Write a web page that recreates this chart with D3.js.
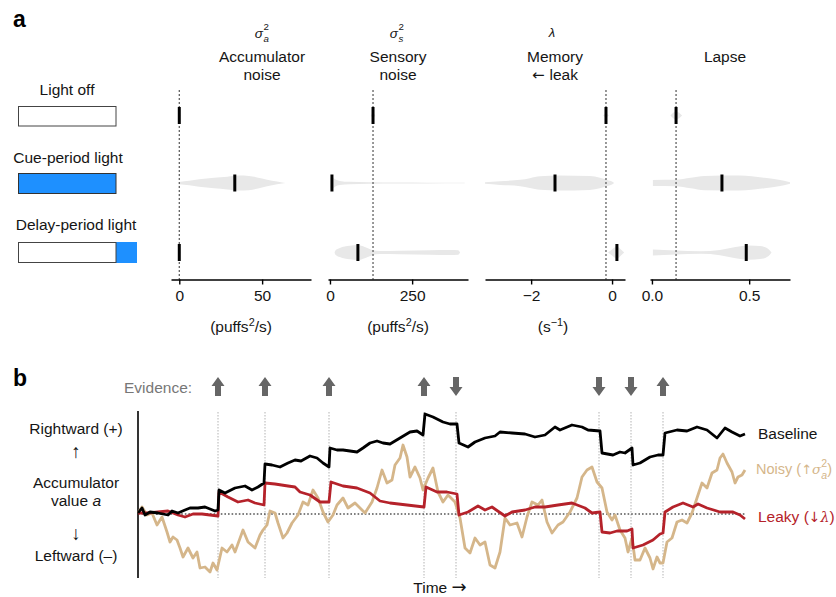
<!DOCTYPE html>
<html><head><meta charset="utf-8">
<script src="https://cdn.jsdelivr.net/npm/d3@7"></script>
<style>
body{margin:0;background:#fff}
svg text{font-family:"Liberation Sans",Arial,Helvetica,sans-serif;}
</style>
</head><body>
<svg id="c" width="836" height="597"></svg>
<script>
// ---------------- DATA: panel a ----------------
const conditions = ["Light off", "Cue-period light", "Delay-period light"];
const paramTitles = ["Accumulator", "Sensory", "Memory", "Lapse"];
const paramSubtitles = ["noise", "noise", "leak", ""];
const accumDomain = [-5, 79.5];
const sensoryDomain = [-6, 420];
const memoryDomain = [-3.14, 0.32];
const lapseDomain = [-0.01, 0.71];
const accumTicks = [0, 50];
const sensoryTicks = [0, 250];
const memoryTicks = [-2, 0];
const lapseTicks = [0, 0.5];
// best-fit values per condition: [accum, sensory, memory, lapse]
const lightOffValues = [0, 131, -0.15, 0.124];
const cueValues = [33.5, 6, -1.41, 0.36];
const delayValues = [0, 85, 0.12, 0.485];
// violin density profiles [value, relative density]
const lightOffViolins = [
  [[-0.6,0],[0,0.12],[0.8,0]],
  [[124,0],[131,0.3],[138,0]],
  [[-0.22,0],[-0.15,0.22],[-0.08,0]],
  [[0.095,0],[0.124,0.55],[0.155,0]]
];
const cueViolins = [
  [[0,0.15],[6,0.3],[12,0.5],[21,0.7],[29,0.85],[36,1.0],[42,0.95],[50,0.6],[56,0.3],[62,0.08],[64,0]],
  [[2,0.7],[8,0.72],[15,0.5],[30,0.28],[60,0.16],[120,0.11],[210,0.08],[300,0.05],[410,0.03]],
  [[-3.14,0.1],[-2.77,0.25],[-2.27,0.42],[-2.03,0.65],[-1.78,0.9],[-1.3,1],[-0.55,0.92],[-0.3,0.7],[-0.12,0.4],[0.02,0.12],[0.05,0]],
  [[0.005,0.4],[0.12,0.42],[0.2,0.7],[0.27,0.95],[0.45,1],[0.58,0.7],[0.66,0.4],[0.71,0.1]]
];
const delayViolins = [
  [[-0.6,0],[0,0.12],[0.8,0]],
  [[14,0],[16,0.25],[30,0.6],[60,0.9],[85,1.0],[106,0.75],[128,0.35],[152,0.2],[213,0.24],[304,0.3],[365,0.34],[390,0.3],[396,0]],
  [[-0.1,0],[0.0,0.4],[0.12,0.85],[0.22,0.4],[0.3,0]],
  [[0.005,0.4],[0.12,0.28],[0.25,0.17],[0.35,0.35],[0.43,0.75],[0.5,0.95],[0.556,0.88],[0.6,0.45],[0.615,0]]
];

// ---------------- DATA: panel b ----------------
const evidenceTimes = [80, 127, 191, 286, 318, 461, 493, 525];
const evidenceDirs  = [1, 1, 1, 1, -1, -1, -1, 1];
const baselineSeries = [[0,0.1],[4,0.6],[7,-0.1],[12,0.2],[20,0.1],[30,-0.1],[34,0.3],[40,0.1],[47,0.4],[52,0.6],[60,0.6],[67,0.7],[72,0.5],[77,0.3],[80,0.4],
 [81,2.4],[87,2.1],[97,2.6],[107,2.8],[114,2.4],[120,2.7],[126,3.1],
 [127,5.0],[134,4.9],[142,4.7],[150,5.1],[157,5.4],[163,5.3],[172,5.8],[179,5.6],[185,5.1],[191,4.7],
 [192,6.6],[199,6.4],[205,6.4],[212,6.3],[219,6.2],[225,6.6],[232,7.1],[239,7.3],[245,7.1],[252,7.0],[262,7.6],[272,8.2],[279,8.3],[285,7.9],
 [287,10.0],[295,9.7],[305,9.2],[312,9.0],[319,9.0],
 [321,7.1],[330,6.7],[337,7.2],[347,7.6],[357,7.8],[362,8.2],[374,8.1],[387,8.0],[397,7.7],[407,7.9],[417,8.7],[422,8.4],[434,8.9],[444,8.7],[450,8.4],[462,8.3],
 [464,6.1],[475,5.9],[482,6.2],[487,6.1],[494,6.6],
 [495,4.9],[502,5.1],[512,5.7],[520,5.9],[525,5.9],
 [527,8.1],[539,8.4],[549,8.3],[559,8.7],[569,8.4],[579,7.6],[587,8.6],[594,8.2],[602,7.8],[607,8.0]];
const noisySeries = [[0,0.1],[4,0.7],[9,-0.1],[14,0.1],[19,-1.1],[24,-0.3],[29,-1.8],[32,-2.8],[35,-2.3],[39,-2.6],[42,-3.4],[45,-4.3],[50,-3.4],[55,-4.4],[59,-3.8],[62,-5.4],[67,-5.3],[72,-5.8],[75,-4.9],[79,-5.6],
 [84,-3.4],[89,-3.8],[94,-3.1],[97,-3.8],[105,-1.6],[110,-2.8],[117,-3.4],[122,-2.1],[125,-1.6],[129,-1.1],[132,0.3],[137,0.1],[140,-0.9],[145,-2.4],[149,-1.9],[154,-0.9],
 [160,-0.1],[165,1.2],[170,0.9],[175,2.4],[180,1.6],[185,0.2],[190,-0.8],[195,-0.1],[199,0.9],[205,1.6],[210,0.6],[217,1.1],[222,0.6],[227,0.1],[234,1.2],[239,2.6],[244,4.4],[249,3.1],[254,3.4],[257,4.9],[262,5.6],[265,6.9],[269,5.7],[272,3.7],[277,4.7],[282,3.6],[285,2.4],[290,3.6],[295,4.6],[300,2.2],[305,1.2],[310,1.9],
 [317,1.2],[322,-0.4],[327,-3.4],[332,-3.9],[337,-2.4],[342,-3.1],[347,-2.8],[352,-5.1],[357,-5.4],[362,-3.8],[367,-0.4],[372,-1.1],[379,-0.9],[384,-2.3],[389,-0.3],[394,1.2],[400,0.9],[404,1.4],[409,-0.8],[414,-1.9],[420,-1.1],[425,-0.8],[432,0.2],[439,1.6],[444,3.7],[449,4.4],[454,4.7],[459,3.2],[464,2.6],
 [469,0.2],[474,-0.6],[477,-0.1],[482,-1.6],[487,-2.4],[490,-3.8],[494,-2.4],[497,-4.6],[502,-4.6],[507,-3.4],[512,-4.4],[515,-5.5],[519,-4.3],[522,-4.9],[525,-4.9],[529,-2.8],[534,-2.4],[539,-0.8],[544,-0.6],[549,-0.9],[554,0.1],[559,1.6],[564,3.1],[569,2.6],[574,4.1],[579,4.4],[582,5.6],[585,6.0],[589,5.1],[594,4.2],[597,3.1],[600,3.7],[604,3.9],[607,4.4]];
const leakySeries = [[0,0.1],[10,0.1],[20,0.2],[30,0.3],[40,-0.1],[47,-0.3],[55,0.0],[64,0.0],[72,-0.1],[80,-0.2],
 [81,2.2],[90,1.7],[100,1.2],[110,1.4],[117,1.1],[126,0.9],
 [127,3.1],[137,3.0],[150,2.8],[157,2.7],[162,2.2],[172,1.9],[182,1.2],[191,1.2],
 [193,3.2],[205,2.8],[219,2.6],[232,2.1],[242,1.3],[252,1.1],[269,0.9],[286,0.7],
 [288,2.7],[299,2.2],[309,2.2],[319,2.0],
 [321,-0.1],[330,0.2],[340,0.8],[347,0.4],[354,0.7],[367,-0.2],[374,0.2],[387,0.4],[397,0.7],[407,0.7],[420,0.9],[434,1.1],[447,0.6],[454,0.1],[462,0.2],
 [464,-1.8],[472,-1.9],[479,-1.7],[489,-1.7],[494,-1.5],
 [495,-3.4],[505,-3.1],[515,-2.6],[522,-2.0],[525,-1.9],
 [527,0.2],[535,0.7],[545,1.1],[555,0.7],[560,1.0],[569,0.6],[582,0.2],[595,0.2],[602,-0.1],[607,-0.5]];
const timeDomain = [0, 607];
const valueDomain = [-6.4, 10.4];

// ---------------- DRAW ----------------
const svg = d3.select("#c");
const FS = 15.5;
const ARROWFONT = "'DejaVu Sans',sans-serif";
const blue = "#1e90ff";
const grey = "#e8e8e8";
const tanC = "#d5b68a";
const redC = "#b5222a";
const ink = "#151515";

svg.append("text").attr("x",13).attr("y",27).attr("font-size",23).attr("font-weight","bold").text("a");
svg.append("text").attr("x",13).attr("y",386).attr("font-size",23).attr("font-weight","bold").text("b");

const rowY = [115.5, 183, 252.5];
const labelY = [95, 163, 230];
const labelX = [67, 68, 76];
conditions.forEach((c,i)=>{
  svg.append("text").attr("x",labelX[i]).attr("y",labelY[i]).attr("text-anchor","middle").attr("font-size",FS).attr("fill",ink).text(c);
});
const boxG = svg.append("g");
boxG.append("rect").attr("x",18.5).attr("y",106.5).attr("width",97.5).attr("height",19.5).attr("fill","#fff").attr("stroke","#444").attr("stroke-width",1);
boxG.append("rect").attr("x",18.5).attr("y",173.5).attr("width",97.5).attr("height",20).attr("fill",blue).attr("stroke","#333").attr("stroke-width",1);
boxG.append("rect").attr("x",116).attr("y",242).attr("width",21).attr("height",21).attr("fill",blue);
boxG.append("rect").attr("x",18.5).attr("y",242.5).attr("width",97.5).attr("height",20).attr("fill","#fff").attr("stroke","#444").attr("stroke-width",1);

const domains = [accumDomain, sensoryDomain, memoryDomain, lapseDomain];
const ticks = [accumTicks, sensoryTicks, memoryTicks, lapseTicks];
const ranges = [[171,311],[328,468],[485,625],[650,790]];
const headerX = [262, 398, 555, 725];
const formats = [d3.format("d"), d3.format("d"), d3.format("d"), d3.format(".1f")];
const axisY = 279.5;
const wScale = d3.scaleLinear().domain([0,1]).range([0,7.5]);
const allViolins = [lightOffViolins, cueViolins, delayViolins];
const allValues = [lightOffValues, cueValues, delayValues];

domains.forEach((dom,p)=>{
  const xs = d3.scaleLinear().domain(dom).range(ranges[p]);
  const g = svg.append("g");
  allViolins.forEach((vs,r)=>{
    const cy = rowY[r];
    const area = d3.area().x(d=>xs(d[0])).y0(d=>cy - wScale(d[1])).y1(d=>cy + wScale(d[1])).curve(d3.curveMonotoneX);
    g.append("path").attr("d",area(vs[p])).attr("fill",grey);
  });
  g.append("line").attr("x1",xs(lightOffValues[p])).attr("x2",xs(lightOffValues[p]))
    .attr("y1",90).attr("y2",axisY).attr("stroke","#555").attr("stroke-width",1.2).attr("stroke-dasharray","2,2");
  allValues.forEach((vals,r)=>{
    const cy = rowY[r];
    g.append("line").attr("x1",xs(vals[p])).attr("x2",xs(vals[p])).attr("y1",cy-8.5).attr("y2",cy+8.5)
      .attr("stroke","#000").attr("stroke-width",3);
  });
  const ax = g.append("g").attr("transform",`translate(0,${axisY})`)
    .call(d3.axisBottom(xs).tickValues(ticks[p]).tickFormat(formats[p]).tickSize(5).tickSizeOuter(0).tickPadding(5));
  ax.select(".domain").attr("stroke","#000").attr("stroke-width",1.6);
  ax.selectAll(".tick line").attr("stroke","#000").attr("stroke-width",1.4);
  ax.selectAll(".tick text").attr("font-size",FS).attr("fill",ink).attr("font-family",'"Liberation Sans",Arial,sans-serif');
  g.append("text").attr("x",headerX[p]).attr("y",62).attr("text-anchor","middle").attr("font-size",FS).attr("fill",ink).text(paramTitles[p]);
  if (paramSubtitles[p]) {
    const st = g.append("text").attr("x",headerX[p]).attr("y",80).attr("text-anchor","middle").attr("font-size",FS).attr("fill",ink);
    if (p===2) st.append("tspan").attr("font-family",ARROWFONT).attr("font-size",15).text("\u2190 ");
    st.append("tspan").text(paramSubtitles[p]);
  }
});

function sigma(x, y, sub, size, color){
  svg.append("text").attr("x",x).attr("y",y).attr("text-anchor","end").attr("font-size",size).attr("font-style","italic").attr("fill",color).attr("font-family","'DejaVu Serif',serif").text("\u03c3");
  svg.append("text").attr("x",x+0.5).attr("y",y-8).attr("font-size",size*0.72).attr("fill",color).text("2");
  svg.append("text").attr("x",x+0.5).attr("y",y+4).attr("font-size",size*0.72).attr("font-style","italic").attr("fill",color).text(sub);
}
sigma(263, 38, "a", 13.5, ink);
sigma(398, 38, "s", 13.5, ink);
svg.append("text").attr("x",552).attr("y",37).attr("text-anchor","middle").attr("font-size",13).attr("font-style","italic").attr("font-family","'DejaVu Serif',serif").attr("fill",ink).text("\u03bb");

function unitLabel(x, base, supTxt, tail){
  const t = svg.append("text").attr("x",x).attr("y",332).attr("text-anchor","middle").attr("font-size",FS).attr("fill",ink);
  t.append("tspan").text(base);
  t.append("tspan").attr("dy",-6).attr("font-size",FS*0.7).text(supTxt);
  t.append("tspan").attr("dy",6).text(tail);
}
unitLabel(241, "(puffs", "2", "/s)");
unitLabel(398, "(puffs", "2", "/s)");
unitLabel(553, "(s", "\u22121", ")");

// ---------------- panel b ----------------
const xT = d3.scaleLinear().domain(timeDomain).range([138,745]);
const yV = d3.scaleLinear().domain(valueDomain).range([578,410]);
const gb = svg.append("g");

gb.append("text").attr("x",124).attr("y",393).attr("font-size",FS).attr("fill","#777").text("Evidence:");

evidenceTimes.forEach(t=>{
  gb.append("line").attr("x1",xT(t)).attr("x2",xT(t)).attr("y1",412).attr("y2",578)
    .attr("stroke","#aaa").attr("stroke-width",0.9).attr("stroke-dasharray","1.5,1.5");
});
evidenceTimes.forEach((t,i)=>{
  const cx = xT(t), top = 377, bot = 396, hh = 9, hw = 6.5, sw = 3;
  const d = evidenceDirs[i];
  const tipY = d>0 ? top : bot, baseY = d>0 ? bot : top, neckY = d>0 ? top+hh : bot-hh;
  const pts = [[cx,tipY],[cx+hw,neckY],[cx+sw,neckY],[cx+sw,baseY],[cx-sw,baseY],[cx-sw,neckY],[cx-hw,neckY]];
  gb.append("path").attr("d","M"+pts.map(p=>p.join(",")).join("L")+"Z").attr("fill","#666");
});

gb.append("line").attr("x1",xT(0)).attr("x2",xT(607)).attr("y1",yV(0)).attr("y2",yV(0))
  .attr("stroke","#000").attr("stroke-width",1.2).attr("stroke-dasharray","1.6,2");
gb.append("line").attr("x1",138).attr("x2",138).attr("y1",411).attr("y2",578).attr("stroke","#000").attr("stroke-width",1.6);

const line = d3.line().x(d=>xT(d[0])).y(d=>yV(d[1]));
gb.append("path").attr("d",line(noisySeries)).attr("fill","none").attr("stroke",tanC).attr("stroke-width",2.8).attr("stroke-linejoin","round");
gb.append("path").attr("d",line(leakySeries)).attr("fill","none").attr("stroke",redC).attr("stroke-width",2.8).attr("stroke-linejoin","round");
gb.append("path").attr("d",line(baselineSeries)).attr("fill","none").attr("stroke","#000").attr("stroke-width",2.8).attr("stroke-linejoin","round");

const leftLines = [["Rightward (+)",434],["\u2191",458],["Accumulator",488],["value ",506],["\u2193",540],["Leftward (\u2013)",561]];
leftLines.forEach(([s,y],i)=>{
  const t = gb.append("text").attr("x",76).attr("y",y).attr("text-anchor","middle").attr("font-size",FS).attr("fill",ink);
  if (i===1 || i===4) { t.attr("font-family",ARROWFONT).attr("font-size",19).text(s); return; }
  t.append("tspan").text(s);
  if (i===3) t.append("tspan").attr("font-style","italic").text("a");
});
const tt = gb.append("text").attr("x",440).attr("y",593).attr("text-anchor","middle").attr("font-size",FS).attr("fill",ink);
tt.append("tspan").text("Time ");
tt.append("tspan").attr("font-family",ARROWFONT).attr("font-size",18).text("\u2192");

gb.append("text").attr("x",758).attr("y",439).attr("font-size",FS).attr("fill",ink).text("Baseline");
const nt = gb.append("text").attr("x",756).attr("y",474).attr("font-size",14.5).attr("fill",tanC);
nt.append("tspan").text("Noisy (");
nt.append("tspan").attr("font-family",ARROWFONT).attr("font-size",13).text("\u2191");
nt.append("tspan").attr("font-style","italic").attr("font-family","'DejaVu Serif',serif").attr("font-size",13.5).text("\u03c3");
nt.append("tspan").attr("dy",-7).attr("font-size",10.5).text("2");
nt.append("tspan").attr("dx",-5.8).attr("dy",12).attr("font-size",10.5).attr("font-style","italic").text("a");
nt.append("tspan").attr("dy",-5).text(")");
const lt = gb.append("text").attr("x",758).attr("y",522).attr("font-size",FS).attr("fill",redC);
lt.append("tspan").text("Leaky (");
lt.append("tspan").attr("font-family",ARROWFONT).attr("font-size",14).text("\u2193");
lt.append("tspan").attr("font-style","italic").attr("font-family","'DejaVu Serif',serif").attr("font-size",14).text("\u03bb");
lt.append("tspan").text(")");
</script>
</body></html>
